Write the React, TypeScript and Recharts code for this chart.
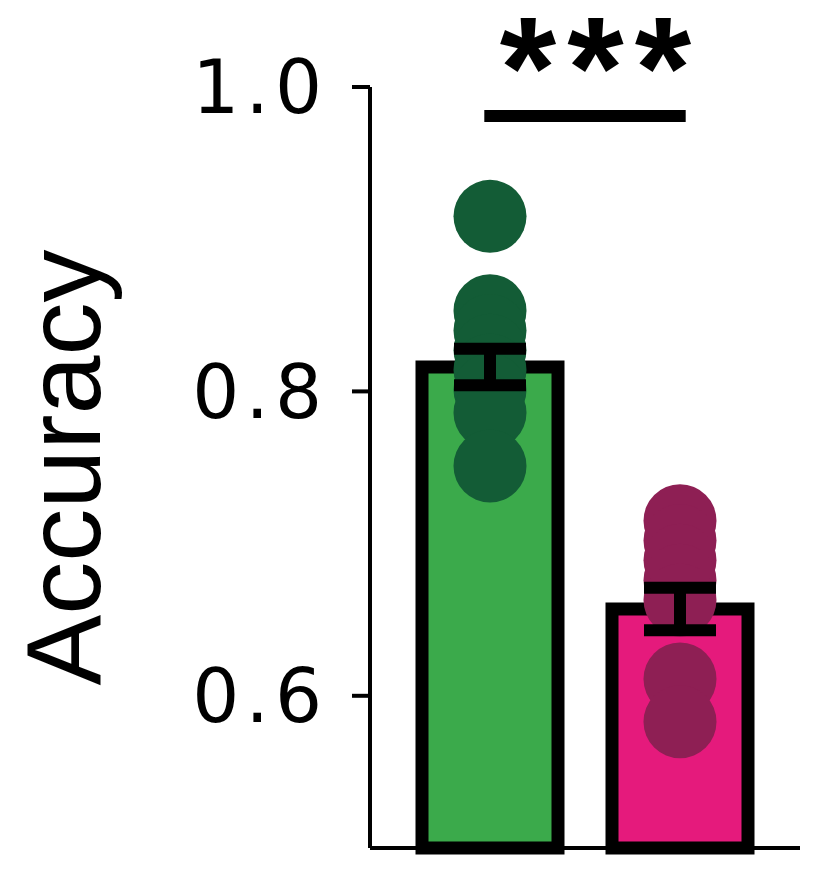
import React from 'react';
import { ComposedChart, Bar, Cell, Scatter, ErrorBar, XAxis, YAxis, ReferenceLine } from 'recharts';

const groups = ['Group 1', 'Group 2'];
const groupPos = [0, 1];
const meanAccuracy = [0.816, 0.657];
const semAccuracy = [0.012, 0.014];
const group1Points = [0.915, 0.853, 0.84, 0.827, 0.814, 0.801, 0.786, 0.751];
const group2Points = [0.715, 0.702, 0.689, 0.676, 0.663, 0.611, 0.583];
const yTicks = [0.6, 0.8, 1.0];
const sigLabel = '***';
const sigLevel = 0.981;

const barColors = ['#3BAA4B', '#E51A7C'];
const dotColors = ['#135C36', '#8E1F54'];

const barData = groups.map((g, i) => ({ name: g, x: groupPos[i], acc: meanAccuracy[i], err: semAccuracy[i] }));
const dots1 = group1Points.map((v) => ({ x: groupPos[0], acc: v }));
const dots2 = group2Points.map((v) => ({ x: groupPos[1], acc: v }));

const dotShape = (color: string) => (props: any) => (
  <circle cx={props.cx} cy={props.cy} r={36.5} fill={color} />
);

const AxisLabel = (props: any) => {
  const vb = props.viewBox || {};
  const x = 54;
  const y = vb.y + vb.height / 2;
  return (
    <text
      x={x}
      y={y}
      transform={`rotate(-90, ${x}, ${y})`}
      textAnchor="middle"
      dy="0.355em"
      fontFamily="Liberation Sans, Arial, sans-serif"
      fontSize={106}
      fill="#000"
    >
      Accuracy
    </text>
  );
};

export default function App() {
  return (
    <ComposedChart
      width={808}
      height={860}
      data={barData}
      margin={{ top: 79, right: 16, bottom: 18, left: 0 }}
    >
      <XAxis
        type="number"
        dataKey="x"
        domain={[-0.6316, 1.6316]}
        ticks={groupPos}
        tick={false}
        tickLine={false}
        axisLine={{ stroke: '#000', strokeWidth: 4 }}
        height={2}
      />
      <YAxis
        type="number"
        domain={[0.5, 1.0]}
        ticks={yTicks}
        width={362}
        tickSize={18}
        tickMargin={24}
        tickFormatter={(v: number) => v.toFixed(1)}
        tick={{ fill: '#000', fontSize: 74, fontFamily: 'DejaVu Sans, sans-serif', letterSpacing: 6 }}
        tickLine={{ stroke: '#000', strokeWidth: 4 }}
        axisLine={{ stroke: '#000', strokeWidth: 4 }}
        label={<AxisLabel />}
      />
      <Bar dataKey="acc" barSize={136} stroke="#000" strokeWidth={13} isAnimationActive={false}>
        {barData.map((d, i) => (
          <Cell key={d.name} fill={barColors[i]} />
        ))}
      </Bar>
      <Scatter data={dots1} dataKey="acc" shape={dotShape(dotColors[0])} isAnimationActive={false} />
      <Scatter data={dots2} dataKey="acc" shape={dotShape(dotColors[1])} isAnimationActive={false} />
      <Scatter data={barData} dataKey="acc" shape={() => <g />} isAnimationActive={false} zIndex={1500}>
        <ErrorBar dataKey="err" direction="y" width={36} strokeWidth={12} stroke="#000" isAnimationActive={false} zIndex={1500} />
      </Scatter>
      <ReferenceLine
        segment={[{ x: -0.03, y: sigLevel }, { x: 1.03, y: sigLevel }]}
        stroke="#000"
        strokeWidth={12}
        label={{ value: sigLabel, position: 'top', fill: '#000', fontSize: 145, fontWeight: 'bold', fontFamily: 'Liberation Sans, Arial, sans-serif', letterSpacing: 11, dx: 16, dy: 7 }}
      />
    </ComposedChart>
  );
}
